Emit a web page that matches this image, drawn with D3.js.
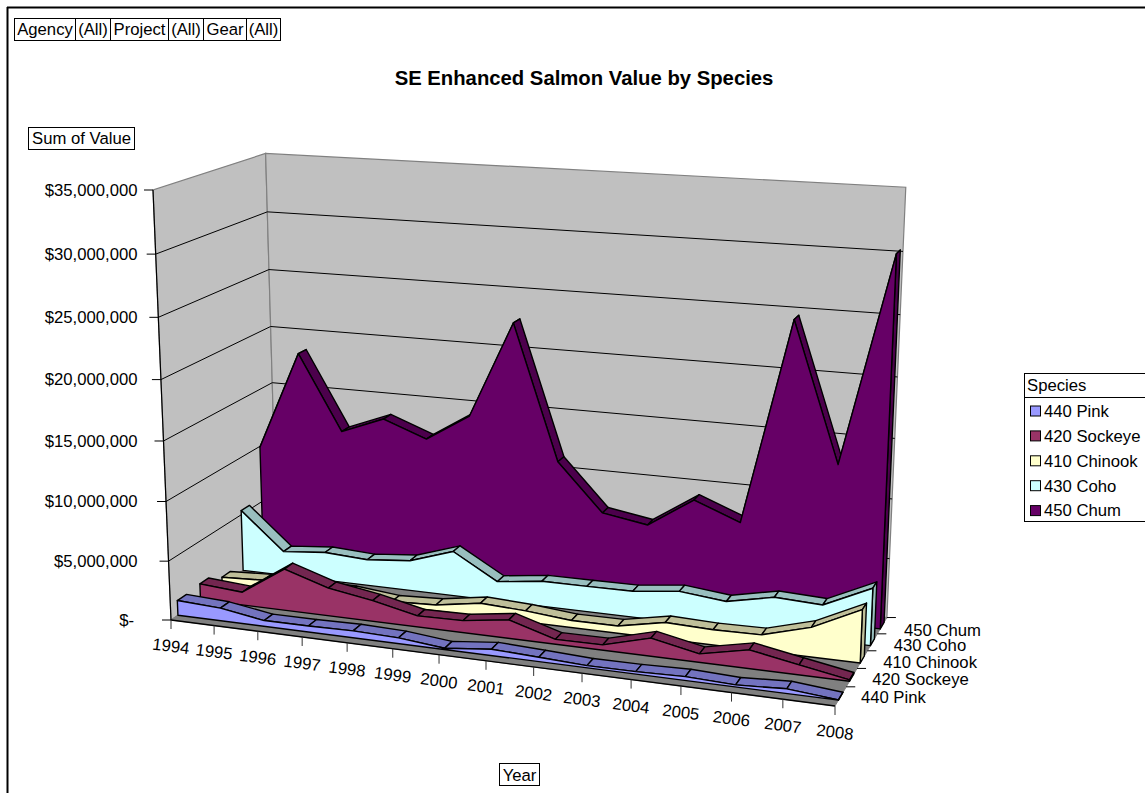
<!DOCTYPE html>
<html>
<head>
<meta charset="utf-8">
<script src="https://cdnjs.cloudflare.com/ajax/libs/d3/7.8.5/d3.min.js"></script>
<style>
  html, body { margin: 0; padding: 0; background: #fff; }
  svg { display: block; }
  text { font-family: "Liberation Sans", Arial, sans-serif; fill: #000; }
</style>
</head>
<body>
<svg id="chart" width="1145" height="793"></svg>
<script>
// Chart values, in dollars per year
const years = [1994,1995,1996,1997,1998,1999,2000,2001,2002,2003,2004,2005,2006,2007,2008];
const speciesNames = ["440 Pink","420 Sockeye","410 Chinook","430 Coho","450 Chum"];
const pinkValues    = [1260000,1080000,490000,510000,580000,480000,110000,520000,360000,180000,200000,310000,160000,370000,20000];
const sockeyeValues = [1380000,1110000,3550000,2370000,1770000,940000,1010000,1550000,410000,440000,1480000,690000,1510000,800000,110000];
const chinookValues = [670000,850000,720000,720000,350000,520000,1130000,950000,600000,620000,1380000,1260000,1320000,2420000,4320000];
const cohoValues    = [5370000,2120000,2470000,2260000,2610000,3850000,1670000,2150000,2170000,2200000,2650000,2250000,3070000,2890000,4730000];
const chumValues    = [9930000,18530000,12030000,13480000,12090000,14430000,22630000,11230000,7230000,6600000,9130000,7630000,24630000,13230000,30330000];
const seriesValues = [pinkValues, sockeyeValues, chinookValues, cohoValues, chumValues];
const valueTicks = [0,5000000,10000000,15000000,20000000,25000000,30000000,35000000];
const frontColors = ["#9999FF","#993366","#FFFFCC","#CCFFFF","#660066"];
const sideColors  = ["#7373BF","#732650","#BFBF99","#99BFBF","#4C004C"];
const filterLabels = ["Agency","(All)","Project","(All)","Gear","(All)"];

// Normalised axes of the 3D box
const xScale = d3.scalePoint().domain(years).range([0, 1]);
const vScale = d3.scaleLinear().domain([0, 35000000]).range([0, 1]);
const dScale = d3.scaleBand().domain(speciesNames).range([0, 1]);
const ribbonInset = 0.06, ribbonDepth = 0.08;

// Perspective camera: screen anchors of the box corners plus homogeneous weights
const O = [171, 620], X = [835, 706], D = [277, 547], V = [153, 190];
const wx = 0.9026, wd = 1.097, wv = 0.951;
function project(x, d, v) {
  const w = 1 + x * (wx - 1) + d * (wd - 1) + v * (wv - 1);
  const c = i => (O[i] + x * (wx * X[i] - O[i]) + d * (wd * D[i] - O[i]) + v * (wv * V[i] - O[i])) / w;
  return [c(0), c(1)];
}

const svg = d3.select("#chart");
const poly = d3.line().curve(d3.curveLinearClosed);
const seg = (a, b, stroke, width) => svg.append("line")
  .attr("x1", a[0]).attr("y1", a[1]).attr("x2", b[0]).attr("y2", b[1])
  .attr("stroke", stroke).attr("stroke-width", width);
const label = (x, y, s, size, opts = {}) => svg.append("text")
  .attr("x", x).attr("y", y).attr("dy", "0.35em")
  .attr("text-anchor", opts.anchor || "start")
  .attr("font-size", size).attr("font-weight", opts.weight || "normal")
  .attr("transform", opts.rotate ? `rotate(${opts.rotate} ${x} ${y})` : null)
  .text(s);
const FONT = 16.7;

// Chart area frame
svg.append("rect").attr("width", 1145).attr("height", 793).attr("fill", "#fff");
seg([7.5, 7], [7.5, 793], "#000", 2);
seg([7, 7.5], [1145, 7.5], "#000", 2);

// Walls and floor
const wallEdge = "#808080";
svg.append("path").attr("fill", "#C0C0C0").attr("stroke", wallEdge).attr("stroke-width", 1.2)
  .attr("d", poly([project(0,0,0), project(0,1,0), project(0,1,1), project(0,0,1)]));
svg.append("path").attr("fill", "#C0C0C0").attr("stroke", wallEdge).attr("stroke-width", 1.2)
  .attr("d", poly([project(0,1,0), project(1,1,0), project(1,1,1), project(0,1,1)]));
svg.append("path").attr("fill", "#808080").attr("stroke", "#808080").attr("stroke-width", 1)
  .attr("d", poly([project(0,0,0), project(1,0,0), project(1,1,0), project(0,1,0)]));

// Gridlines on both walls, ticks and labels on the value axis
valueTicks.forEach(t => {
  const v = vScale(t);
  if (t > 0 && t < 35000000) {
    seg(project(0,0,v), project(0,1,v), "#000", 1);
    seg(project(0,1,v), project(1,1,v), "#000", 1);
  }
  const p = project(0,0,v);
  seg([p[0] - 9, p[1]], p, "#000", 1);
  const text = t === 0 ? "$-" : d3.format("$,")(t);
  label(t === 0 ? 134 : 137.5, p[1], text, FONT, { anchor: "end" });
});
seg(project(0,0,0), project(0,0,1), "#000", 1.2);

// Series from back to front: top ribbons, right end, then the front face
d3.range(speciesNames.length - 1, -1, -1).forEach(s => {
  const name = speciesNames[s];
  const dFront = dScale(name) + ribbonInset;
  const dBack = dFront + ribbonDepth;
  const g = svg.append("g").attr("stroke", "#000").attr("stroke-width", 1.4).attr("stroke-linejoin", "round");
  const vals = seriesValues[s];
  g.selectAll("path.ribbon").data(d3.pairs(years.map((y, i) => [xScale(y), vScale(vals[i])])))
    .join("path").attr("class", "ribbon").attr("fill", sideColors[s])
    .attr("d", ([a, b]) => poly([project(a[0], dFront, a[1]), project(b[0], dFront, b[1]),
                                 project(b[0], dBack, b[1]), project(a[0], dBack, a[1])]));
  const last = vScale(vals[vals.length - 1]);
  g.append("path").attr("fill", sideColors[s])
    .attr("d", poly([project(1, dFront, 0), project(1, dBack, 0), project(1, dBack, last), project(1, dFront, last)]));
  const top = years.map((y, i) => project(xScale(y), dFront, vScale(vals[i])));
  g.append("path").attr("fill", frontColors[s])
    .attr("d", poly([project(0, dFront, 0), ...top, project(1, dFront, 0)]));
});

// Front floor edge with year ticks and slanted year labels
seg(project(0,0,0), project(1,0,0), "#000", 1.4);
years.forEach(y => {
  const p = project(xScale(y), 0, 0);
  seg(p, [p[0], p[1] + 9], "#333", 1);
  label(p[0], p[1] + 26, String(y), FONT, { anchor: "middle", rotate: 7.4 });
});

// Depth axis with a tick at each band edge and species labels at band centres
d3.range(0, speciesNames.length + 1).forEach(i => {
  const p = project(1, i * dScale.bandwidth(), 0);
  if (i > 0) seg(p, [p[0] + 9, p[1]], "#000", 1);
});
speciesNames.forEach(name => {
  const centre = dScale(name) + dScale.bandwidth() / 2;
  const p = project(1, centre, 0);
  label(p[0] + 20 + 2 * centre, p[1] + 0.6 + 4 * centre, name, FONT);
});

// Boxed captions
function box(x0, y0, x1, y1) {
  svg.append("rect").attr("x", x0).attr("y", y0).attr("width", x1 - x0).attr("height", y1 - y0)
    .attr("fill", "#fff").attr("stroke", "#000").attr("stroke-width", 1);
}
const filterEdges = [14.5, 75.5, 110.5, 168.5, 203.5, 246.5, 280.5];
filterLabels.forEach((t, i) => {
  box(filterEdges[i], 18.5, filterEdges[i + 1], 40.5);
  label((filterEdges[i] + filterEdges[i + 1]) / 2, 29.5, t, FONT, { anchor: "middle" });
});
box(28.5, 127.5, 134.5, 149.5);
label(81.5, 138.5, "Sum of Value", FONT, { anchor: "middle" });
box(499.5, 763.5, 539.5, 785.5);
label(519.5, 775, "Year", FONT, { anchor: "middle" });

// Chart title
label(584, 78, "SE Enhanced Salmon Value by Species", 20.3, { anchor: "middle", weight: "bold" });

// Legend
svg.append("rect").attr("x", 1024.5).attr("y", 373.5).attr("width", 130).attr("height", 148)
  .attr("fill", "#fff").attr("stroke", "#000").attr("stroke-width", 1);
seg([1024.5, 397.5], [1145, 397.5], "#000", 1);
label(1027, 385.5, "Species", FONT);
speciesNames.forEach((name, i) => {
  const y = 411 + i * 24.9;
  svg.append("rect").attr("x", 1030.5).attr("y", y - 5).attr("width", 10).attr("height", 10)
    .attr("fill", frontColors[i]).attr("stroke", "#000").attr("stroke-width", 1);
  label(1044, y, name, FONT);
});
</script>
</body>
</html>
